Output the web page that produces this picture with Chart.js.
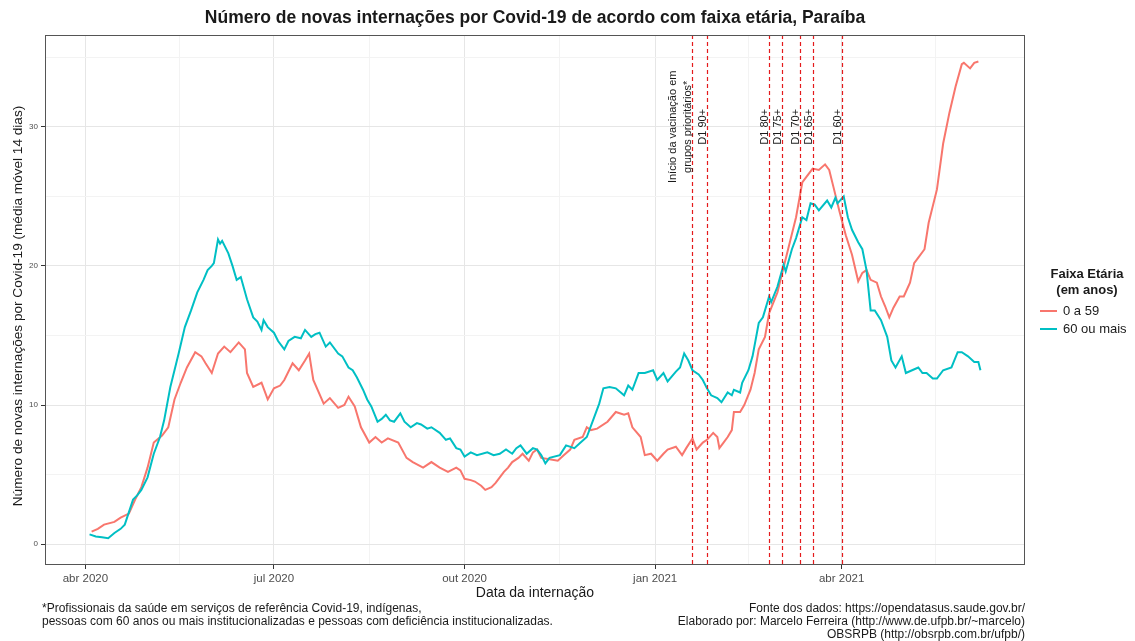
<!DOCTYPE html>
<html lang="pt-BR">
<head>
<meta charset="utf-8">
<title>Internações Covid-19 por faixa etária - Paraíba</title>
<script src="https://cdn.jsdelivr.net/npm/chart.js@4.4.1/dist/chart.umd.min.js"></script>
<style>
  body { margin: 0; background: #fff; }
  #wrap { width: 1135px; height: 641px; position: relative; }
</style>
</head>
<body>
<div id="wrap"><canvas id="grafico"></canvas></div>
<script>
// dias contados a partir de 01/04/2020 (dia 0)
const dias0a59 = [3, 6, 9, 14, 17, 21, 24, 27, 30, 33, 37, 40, 43, 46, 49, 53, 56, 58, 61, 64, 67, 70, 74, 77, 78, 81, 85, 88, 91, 94, 96, 100, 103, 106, 108, 110, 115, 118, 122, 125, 127, 130, 133, 137, 140, 143, 146, 151, 155, 158, 163, 167, 171, 175, 179, 181, 183, 186, 188, 191, 193, 196, 198, 200, 202, 204, 206, 209, 211, 214, 216, 218, 220, 224, 228, 231, 234, 236, 240, 242, 244, 247, 252, 256, 260, 262, 264, 268, 270, 273, 276, 279, 281, 285, 288, 290, 293, 295, 298, 300, 303, 305, 306, 308, 310, 312, 313, 316, 318, 321, 323, 325, 328, 330, 334, 337, 340, 343, 346, 348, 351, 354, 357, 359, 361, 364, 367, 370, 373, 375, 377, 379, 382, 384, 386, 388, 390, 393, 395, 398, 400, 402, 405, 407, 411, 414, 417, 420, 423, 424, 427, 429, 431];
const valores0a59 = [0.9, 1.1, 1.4, 1.6, 1.9, 2.2, 3.2, 4.1, 5.5, 7.3, 7.8, 8.4, 10.4, 11.6, 12.7, 13.8, 13.5, 13.0, 12.3, 13.7, 14.2, 13.8, 14.5, 14.0, 12.3, 11.3, 11.6, 10.4, 11.2, 11.4, 11.8, 13.0, 12.5, 13.2, 13.7, 11.8, 10.1, 10.5, 9.8, 10.0, 10.6, 9.9, 8.4, 7.3, 7.7, 7.3, 7.6, 7.3, 6.2, 5.9, 5.5, 5.9, 5.5, 5.2, 5.5, 5.3, 4.7, 4.6, 4.5, 4.2, 3.9, 4.1, 4.4, 4.8, 5.2, 5.5, 5.9, 6.2, 6.5, 6.0, 6.6, 6.8, 6.2, 6.1, 6.0, 6.4, 6.8, 7.5, 7.7, 8.4, 8.2, 8.3, 8.8, 9.5, 9.3, 9.4, 8.4, 7.7, 6.4, 6.5, 6.0, 6.5, 6.8, 7.0, 6.4, 6.9, 7.6, 6.8, 7.3, 7.5, 8.0, 7.7, 6.9, 7.3, 7.7, 8.2, 9.5, 9.5, 10.0, 11.1, 12.3, 14.0, 14.9, 16.6, 18.1, 19.9, 21.7, 23.5, 26.0, 26.4, 27.0, 26.9, 27.3, 26.9, 25.7, 23.9, 22.2, 20.8, 18.9, 19.5, 19.7, 19.0, 18.8, 17.8, 17.1, 16.3, 17.0, 17.8, 17.8, 18.8, 20.2, 20.6, 21.2, 23.1, 25.5, 28.8, 31.0, 32.9, 34.5, 34.6, 34.2, 34.6, 34.7];

const dias60mais = [2, 5, 8, 11, 14, 17, 19, 23, 25, 27, 30, 33, 36, 38, 41, 45, 48, 51, 54, 57, 59, 61, 62, 64, 65, 66, 69, 71, 73, 75, 78, 81, 83, 85, 86, 88, 91, 93, 96, 98, 101, 104, 106, 109, 111, 113, 116, 118, 122, 124, 127, 129, 131, 134, 136, 138, 141, 143, 145, 147, 149, 152, 154, 157, 160, 162, 165, 167, 171, 174, 176, 179, 181, 183, 186, 189, 194, 197, 200, 203, 206, 208, 210, 213, 216, 218, 220, 222, 224, 229, 232, 236, 239, 242, 245, 248, 250, 253, 256, 260, 262, 264, 267, 270, 274, 276, 279, 281, 285, 287, 289, 291, 293, 296, 298, 300, 302, 305, 307, 310, 312, 313, 316, 317, 320, 322, 325, 327, 330, 331, 334, 337, 338, 341, 343, 346, 348, 350, 352, 354, 358, 360, 362, 363, 366, 368, 370, 373, 375, 377, 379, 381, 384, 387, 389, 391, 394, 396, 399, 402, 404, 406, 409, 411, 414, 418, 421, 423, 426, 429, 431, 432];
const valores60mais = [0.7, 0.55, 0.5, 0.43, 0.8, 1.1, 1.4, 3.2, 3.5, 3.9, 4.8, 6.5, 7.7, 8.9, 11.3, 13.7, 15.6, 16.8, 18.1, 19.0, 19.7, 20.0, 20.2, 21.9, 21.6, 21.8, 20.9, 20.0, 19.0, 19.2, 17.6, 16.3, 16.0, 15.4, 16.1, 15.6, 15.2, 14.6, 14.0, 14.6, 14.9, 14.8, 15.4, 14.9, 15.1, 15.2, 14.2, 14.5, 13.7, 13.5, 12.7, 12.5, 12.0, 11.1, 10.4, 9.9, 8.8, 9.0, 9.3, 8.9, 8.8, 9.4, 8.8, 8.4, 8.7, 8.6, 8.3, 8.4, 8.0, 7.5, 7.6, 6.9, 6.8, 6.3, 6.6, 6.4, 6.6, 6.4, 6.5, 6.8, 6.5, 6.9, 7.1, 6.5, 6.9, 6.8, 6.4, 5.8, 6.2, 6.4, 7.1, 6.9, 7.3, 7.7, 8.9, 10.1, 11.2, 11.3, 11.2, 10.7, 11.4, 11.1, 12.3, 12.3, 12.5, 11.8, 12.3, 11.7, 12.4, 12.7, 13.7, 13.2, 12.5, 12.2, 11.8, 11.2, 10.7, 10.5, 10.2, 10.9, 10.7, 11.1, 10.9, 11.6, 12.5, 13.5, 15.9, 16.3, 17.8, 17.4, 18.5, 20.1, 19.6, 21.2, 22.0, 23.5, 23.3, 24.5, 24.4, 24.0, 24.7, 24.2, 24.9, 24.5, 25.0, 23.5, 22.6, 21.7, 21.2, 19.7, 16.8, 16.8, 16.1, 14.9, 13.2, 12.7, 13.5, 12.3, 12.5, 12.7, 12.3, 12.3, 11.9, 11.9, 12.5, 12.7, 13.8, 13.8, 13.5, 13.1, 13.1, 12.5];

const ticksDias = [0, 91, 183, 275, 365];
const ticksRotulos = ['abr 2020', 'jul 2020', 'out 2020', 'jan 2021', 'abr 2021'];
const ticksMenoresX = [45.5, 137, 229, 320, 410.5];
const ticksY = [0, 10, 20, 30];
const ticksMenoresY = [5, 15, 25, 35];

const vacinaDias = [293, 300, 330, 336, 345, 351, 365];
const vacinaRotulos = [['Início da vacinação em', 'grupos prioritários*'], ['D1 90+'], ['D1 80+'], ['D1 75+'], ['D1 70+'], ['D1 65+'], ['D1 60+']];

const FONTE = '"Liberation Sans", Arial, Helvetica, sans-serif';
const COR_TEXTO = '#1a1a1a';

function pontos(dias, valores) {
    return dias.map((d, i) => ({ x: d, y: valores[i] }));
}

// limites do eixo x com 5% de folga, como no ggplot
const todosDias = dias0a59.concat(dias60mais);
const dMin = Math.min(...todosDias), dMax = Math.max(...todosDias);
const folga = (dMax - dMin) * 0.05;

const painel = {
    id: 'painel',
    beforeDraw(chart) {
        const ctx = chart.ctx;
        ctx.save();
        ctx.fillStyle = '#fff';
        ctx.fillRect(0, 0, chart.width, chart.height);
        ctx.restore();
    },
    afterDatasetsDraw(chart) {
        const { ctx, chartArea: a, scales: { x, y } } = chart;
        ctx.save();
        // linhas de vacinação
        ctx.strokeStyle = '#e41a1c';
        ctx.lineWidth = 1.2;
        ctx.setLineDash([4, 3]);
        vacinaDias.forEach(d => {
            const px = Math.round(x.getPixelForValue(d)) + 0.5;
            ctx.beginPath();
            ctx.moveTo(px, a.top);
            ctx.lineTo(px, a.bottom);
            ctx.stroke();
        });
        ctx.setLineDash([]);
        // rótulos das linhas
        ctx.fillStyle = COR_TEXTO;
        ctx.font = '11px ' + FONTE;
        ctx.textAlign = 'center';
        ctx.textBaseline = 'middle';
        const py = y.getPixelForValue(30);
        vacinaDias.forEach((d, i) => {
            const px = x.getPixelForValue(d);
            const linhas = vacinaRotulos[i];
            ctx.save();
            ctx.translate(px, py);
            ctx.rotate(-Math.PI / 2);
            linhas.forEach((t, j) => {
                ctx.fillText(t, 0, -4 - (linhas.length - 1 - j) * 15);
            });
            ctx.restore();
        });
        // borda do painel
        ctx.strokeStyle = '#555';
        ctx.lineWidth = 1;
        ctx.strokeRect(a.left + 0.5, a.top + 0.5, a.right - a.left - 1, a.bottom - a.top - 1);
        ctx.restore();
    },
    afterDraw(chart) {
        const { ctx, chartArea: a } = chart;
        const cx = (a.left + a.right) / 2;
        ctx.save();
        ctx.fillStyle = COR_TEXTO;
        ctx.textBaseline = 'middle';
        // título
        ctx.textAlign = 'center';
        ctx.font = 'bold 17.5px ' + FONTE;
        ctx.fillText('Número de novas internações por Covid-19 de acordo com faixa etária, Paraíba', cx, 18);
        // títulos dos eixos
        ctx.font = '14px ' + FONTE;
        ctx.fillText('Data da internação', cx, 593);
        ctx.save();
        ctx.translate(18, (a.top + a.bottom) / 2 + 6);
        ctx.rotate(-Math.PI / 2);
        ctx.font = '13.6px ' + FONTE;
        ctx.fillText('Número de novas internações por Covid-19 (média móvel 14 dias)', 0, 0);
        ctx.restore();
        // legenda
        ctx.font = 'bold 13px ' + FONTE;
        ctx.fillText('Faixa Etária', 1087, 274);
        ctx.fillText('(em anos)', 1087, 290);
        ctx.textAlign = 'left';
        ctx.font = '13px ' + FONTE;
        chart.data.datasets.forEach((ds, i) => {
            const ly = 311 + i * 18;
            ctx.strokeStyle = ds.borderColor;
            ctx.lineWidth = 2;
            ctx.beginPath();
            ctx.moveTo(1040, ly);
            ctx.lineTo(1057, ly);
            ctx.stroke();
            ctx.fillText(ds.label, 1063, ly);
        });
        // notas
        ctx.font = '12px ' + FONTE;
        ctx.fillText('*Profissionais da saúde em serviços de referência Covid-19, indígenas,', 42, 609);
        ctx.fillText('pessoas com 60 anos ou mais institucionalizadas e pessoas com deficiência institucionalizadas.', 42, 622);
        ctx.textAlign = 'right';
        ctx.fillText('Fonte dos dados: https://opendatasus.saude.gov.br/', a.right, 609);
        ctx.fillText('Elaborado por: Marcelo Ferreira (http://www.de.ufpb.br/~marcelo)', a.right, 622);
        ctx.fillText('OBSRPB (http://obsrpb.com.br/ufpb/)', a.right, 635);
        ctx.restore();
    }
};

const corGrade = (maiores) => (c) => (c.tick && maiores.includes(c.tick.value)) ? '#e6e6e6' : '#f3f3f3';
const corTick = (maiores) => (c) => (c.tick && maiores.includes(c.tick.value)) ? '#333' : 'rgba(0,0,0,0)';

new Chart(document.getElementById('grafico'), {
    type: 'line',
    data: {
        datasets: [
            {
                label: '0 a 59',
                data: pontos(dias0a59, valores0a59),
                borderColor: '#F8766D',
                borderWidth: 2,
                pointRadius: 0,
                tension: 0,
                order: 1
            },
            {
                label: '60 ou mais',
                data: pontos(dias60mais, valores60mais),
                borderColor: '#00BFC4',
                borderWidth: 2,
                pointRadius: 0,
                tension: 0,
                order: 0
            }
        ]
    },
    options: {
        responsive: true,
        maintainAspectRatio: false,
        animation: false,
        layout: { padding: { left: 0, top: 35, right: 110, bottom: 0 } },
        plugins: {
            legend: { display: false },
            tooltip: { enabled: false },
            title: { display: false }
        },
        scales: {
            x: {
                type: 'linear',
                min: dMin - folga,
                max: dMax + folga,
                afterBuildTicks: s => {
                    s.ticks = ticksDias.concat(ticksMenoresX).sort((p, q) => p - q).map(v => ({ value: v }));
                },
                afterFit: s => { s.height = 76; },
                ticks: {
                    autoSkip: false,
                    maxRotation: 0,
                    padding: 3,
                    color: '#4d4d4d',
                    font: { family: FONTE, size: 11.5 },
                    callback: v => {
                        const i = ticksDias.indexOf(v);
                        return i >= 0 ? ticksRotulos[i] : '';
                    }
                },
                grid: {
                    color: corGrade(ticksDias),
                    tickColor: corTick(ticksDias),
                    tickLength: 4,
                    lineWidth: 1
                },
                border: { display: false }
            },
            y: {
                type: 'linear',
                min: -1.5,
                max: 36.6,
                afterBuildTicks: s => {
                    s.ticks = ticksY.concat(ticksMenoresY).sort((p, q) => p - q).map(v => ({ value: v }));
                },
                afterFit: s => { s.width = 45; },
                ticks: {
                    padding: 3,
                    color: '#4d4d4d',
                    font: { family: FONTE, size: 8 },
                    callback: v => ticksY.includes(v) ? String(v) : ''
                },
                grid: {
                    color: corGrade(ticksY),
                    tickColor: corTick(ticksY),
                    tickLength: 4,
                    lineWidth: 1
                },
                border: { display: false }
            }
        }
    },
    plugins: [painel]
});
</script>
</body>
</html>
